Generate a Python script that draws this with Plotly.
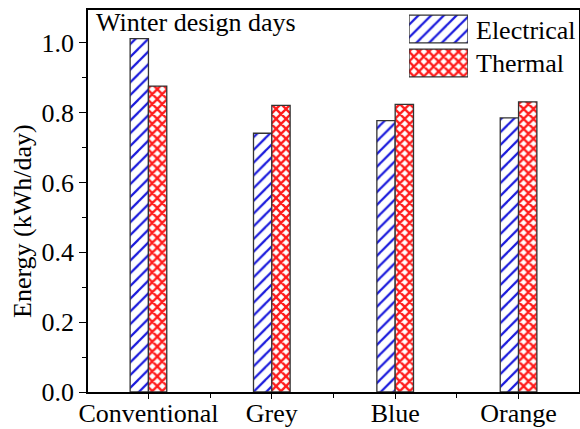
import plotly.graph_objects as go

categories = ["Conventional", "Grey", "Blue", "Orange"]
electrical = [1.012, 0.741, 0.777, 0.785]
thermal = [0.876, 0.821, 0.824, 0.831]
series_names = ["Electrical", "Thermal"]

W, H = 580, 429
ML, MR, MT, MB = 88, 1, 10, 37
FONT = "'Times New Roman', 'Liberation Serif', 'DejaVu Serif', serif"
FS = 26

xpos = list(range(len(categories)))
blue = "#1a1adc"
red = "#ff1a1a"
edge = "#333333"

el_pattern = dict(shape="/", fgcolor=blue, bgcolor="white", size=9, solidity=0.25, fillmode="replace")
th_pattern = dict(shape="x", fgcolor=red, bgcolor="white", size=7, solidity=0.55, fillmode="replace")

fig = go.Figure()
fig.add_trace(go.Bar(x=xpos, y=electrical, name=series_names[0],
                     marker=dict(color="white", line=dict(color=edge, width=1.3), pattern=el_pattern)))
fig.add_trace(go.Bar(x=xpos, y=thermal, name=series_names[1],
                     marker=dict(color="white", line=dict(color=edge, width=1.3), pattern=th_pattern)))

# custom legend patches on an auxiliary axis
fig.add_trace(go.Bar(x=[1], y=[0], orientation="h", width=0.82, xaxis="x2", yaxis="y2",
                     marker=dict(color="white", line=dict(color=edge, width=1.3), pattern=el_pattern),
                     showlegend=False, hoverinfo="skip"))
fig.add_trace(go.Bar(x=[1], y=[1], orientation="h", width=0.82, xaxis="x2", yaxis="y2",
                     marker=dict(color="white", line=dict(color=edge, width=1.3), pattern=th_pattern),
                     showlegend=False, hoverinfo="skip"))

pw = W - ML - MR
ph = H - MT - MB

def px_x(p):
    return (p - ML) / pw

def px_y(p):
    return (H - MB - p) / ph

fig.update_layout(
    width=W, height=H,
    margin=dict(l=ML, r=MR, t=MT, b=MB, autoexpand=False),
    paper_bgcolor="white", plot_bgcolor="white",
    barmode="group", bargap=0.703, bargroupgap=0,
    showlegend=False,
    font=dict(family=FONT, size=FS, color="black"),
    xaxis=dict(range=[-0.49, 3.49], tickvals=xpos, ticktext=categories, automargin=False,
               ticks="outside", ticklen=5, tickwidth=1.3, tickcolor="black",
               minor=dict(tickvals=[0.5, 1.5, 2.5], ticks="outside", ticklen=4, tickwidth=1.3, tickcolor="black"),
               showline=True, linecolor="black", linewidth=1.5, mirror=True,
               showgrid=False, zeroline=False, tickfont=dict(family=FONT, size=FS), ticklabelstandoff=-8),
    yaxis=dict(range=[0, 1.094], dtick=0.2, tick0=0, tickformat=".1f", automargin=False,
               ticks="outside", ticklen=7, tickwidth=1.3, tickcolor="black",
               minor=dict(dtick=0.1, ticks="outside", ticklen=4, tickwidth=1.3, tickcolor="black"),
               showline=True, linecolor="black", linewidth=1.5, mirror=True,
               showgrid=False, zeroline=False, tickfont=dict(family=FONT, size=FS)),
    xaxis2=dict(domain=[px_x(409), px_x(468)], range=[0, 1], visible=False, anchor="y2"),
    yaxis2=dict(domain=[px_y(80), px_y(12)], range=[1.5, -0.5], visible=False, anchor="x2"),
    annotations=[
        dict(text="Winter design days", x=px_x(94), y=px_y(22), xref="paper", yref="paper",
             xanchor="left", yanchor="middle", showarrow=False, font=dict(family=FONT, size=FS)),
        dict(text=series_names[0], x=px_x(474), y=px_y(30), xref="paper", yref="paper",
             xanchor="left", yanchor="middle", showarrow=False, font=dict(family=FONT, size=FS)),
        dict(text=series_names[1], x=px_x(474), y=px_y(64), xref="paper", yref="paper",
             xanchor="left", yanchor="middle", showarrow=False, font=dict(family=FONT, size=FS)),
        dict(text="Energy (kWh/day)", x=px_x(23), y=px_y(221), xref="paper", yref="paper",
             xanchor="center", yanchor="middle", textangle=-90, showarrow=False, font=dict(family=FONT, size=FS)),
    ],
)

fig.write_html("out.html")
